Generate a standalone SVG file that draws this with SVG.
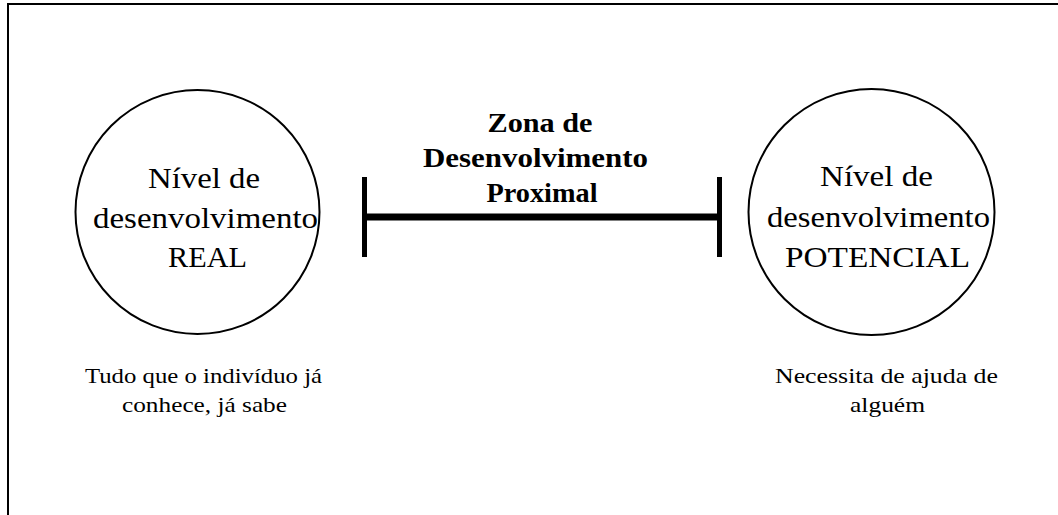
<svg xmlns="http://www.w3.org/2000/svg" width="1058" height="515" viewBox="0 0 1058 515">
<style>
text{font-family:'Liberation Serif','Times New Roman',serif;fill:#000;text-anchor:middle}
.c{font-size:30px}
.b{font-size:28px;font-weight:bold}
.s{font-size:21px}
.node{fill:#fff;stroke:#000;stroke-width:2}
.bar{stroke:#000}
</style>
<rect x="0" y="0" width="1058" height="515" fill="#fff"/>
<rect x="8" y="4" width="1070" height="530" fill="none" stroke="#000" stroke-width="2"/>
<g id="node-real">
<circle class="node" cx="197.5" cy="212" r="122"/>
<text class="c" x="204" y="188" textLength="112" lengthAdjust="spacingAndGlyphs">Nível de</text>
<text class="c" x="205.5" y="228" textLength="225" lengthAdjust="spacingAndGlyphs">desenvolvimento</text>
<text class="c" x="207.5" y="267" textLength="79" lengthAdjust="spacingAndGlyphs">REAL</text>
</g>
<g id="node-potencial">
<circle class="node" cx="871.5" cy="212" r="123"/>
<text class="c" x="876.5" y="186" textLength="113" lengthAdjust="spacingAndGlyphs">Nível de</text>
<text class="c" x="878.5" y="227" textLength="223" lengthAdjust="spacingAndGlyphs">desenvolvimento</text>
<text class="c" x="877.5" y="267" textLength="185" lengthAdjust="spacingAndGlyphs">POTENCIAL</text>
</g>
<g id="connectors">
<line class="bar" x1="364.5" y1="177" x2="364.5" y2="257" stroke-width="5"/>
<line class="bar" x1="719.5" y1="177" x2="719.5" y2="257" stroke-width="5"/>
<line class="bar" x1="367" y1="217" x2="717" y2="217" stroke-width="7"/>
</g>
<g id="label-zdp">
<text class="b" x="540" y="132" textLength="105" lengthAdjust="spacingAndGlyphs">Zona de</text>
<text class="b" x="535.5" y="167" textLength="225" lengthAdjust="spacingAndGlyphs">Desenvolvimento</text>
<text class="b" x="542" y="202" textLength="111" lengthAdjust="spacingAndGlyphs">Proximal</text>
</g>
<g id="label-real">
<text class="s" x="203.5" y="383" textLength="237" lengthAdjust="spacingAndGlyphs">Tudo que o indivíduo já</text>
<text class="s" x="204.5" y="412" textLength="165" lengthAdjust="spacingAndGlyphs">conhece, já sabe</text>
</g>
<g id="label-potencial">
<text class="s" x="886.5" y="383" textLength="223" lengthAdjust="spacingAndGlyphs">Necessita  de ajuda de</text>
<text class="s" x="887.5" y="412" textLength="75" lengthAdjust="spacingAndGlyphs">alguém</text>
</g>
</svg>
